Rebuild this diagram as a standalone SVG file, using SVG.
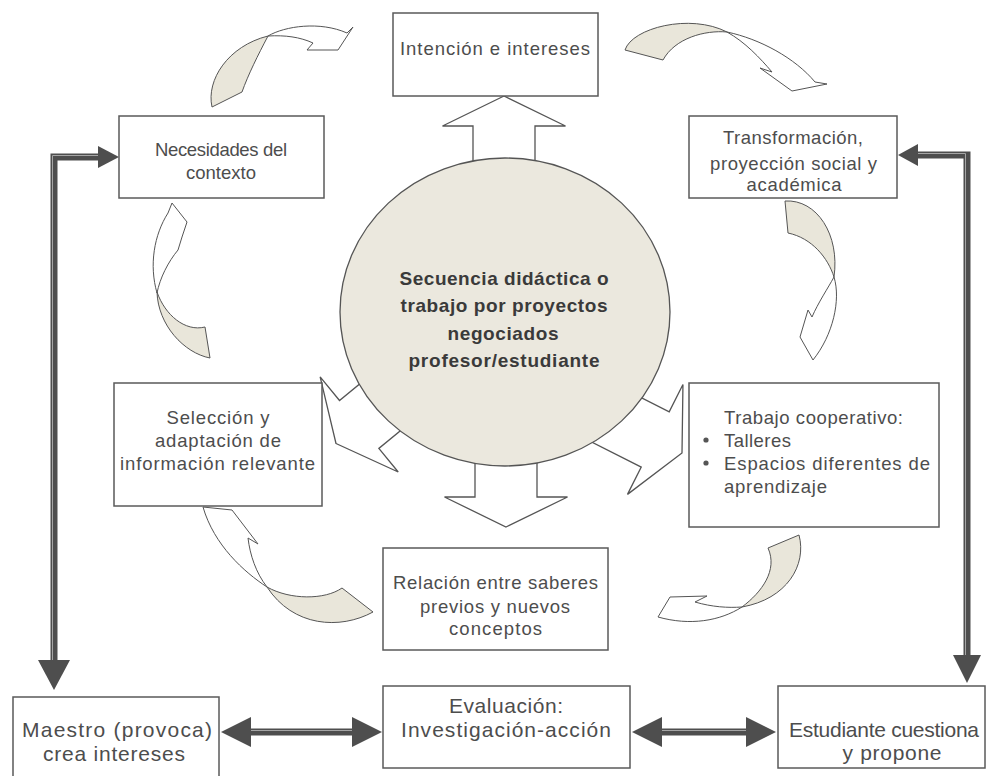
<svg xmlns="http://www.w3.org/2000/svg" xmlns:xlink="http://www.w3.org/1999/xlink" width="992" height="776" viewBox="0 0 992 776">
<style>
.box{fill:#fff;stroke:#5a5a5a;stroke-width:1.5}
.t{font-family:"Liberation Sans",Arial,sans-serif;font-size:18.5px;fill:#4d4d4d;text-anchor:middle}
.tl{text-anchor:start}
.b{font-weight:bold;font-size:19px;fill:#3a3a3a}
.tb{font-size:21px}
.hollow{fill:#fff;stroke:#555;stroke-width:1.3}
.cw{fill:#fff;stroke:#555;stroke-width:1}
.cb{fill:#e9e6da;stroke:#555;stroke-width:1}
.bar{fill:none;stroke:#4e4e4e;stroke-width:7}
.barl{fill:none;stroke:#a5a5a5;stroke-width:1}
.head{fill:#4e4e4e}
.circ{fill:#ebe8de;stroke:#555;stroke-width:1.3}
</style>
<defs>
<polygon id="ha" points="0,0 -30,-61.5 -30,-31 -110,-31 -110,31 -30,31 -30,61.5"/>
</defs>
<rect width="992" height="776" fill="#fff"/>
<g id="connectors">
  <path class="cb" d="M212,107 C206,80 228,46 268,36 C258,55 248,75 242,92 Z"/>
  <path class="cw" d="M268,36 C285,26 320,21 347,33 L353,27 L338,50 L307,50 L313,43 C300,37 285,35 268,36 Z"/>
  <path class="cb" d="M625,50 C632,28 690,13 727,32 C705,30 675,38 663,60 Z"/>
  <path class="cw" d="M727,32 C760,39 795,58 815,82 L827,84 L792,91 L760,68 L772,72 C760,58 745,42 727,32 Z"/>
  <path class="cb" d="M785,201 C817,199 840,235 834,277 C828,258 812,238 788,233 Z"/>
  <path class="cw" d="M834,277 C841,300 833,335 813,360 L800,337 L808,310 L812,317 C818,303 828,288 834,277 Z"/>
  <path class="cb" d="M799,535 C807,565 787,599 742,607 C762,592 778,570 768,548 Z"/>
  <path class="cw" d="M742,607 C720,621 690,626 658,617 L670,597 L707,596 L695,602 C712,607 728,608 742,607 Z"/>
  <path class="cb" d="M373,612 C340,630 293,627 267,587 C290,600 325,600 342,588 Z"/>
  <path class="cw" d="M267,587 C244,572 214,545 203,507 L232,510 L258,544 L248,538 C250,555 256,573 267,587 Z"/>
  <path class="cb" d="M210,358 C184,353 158,325 157,292 C165,315 185,332 205,327 Z"/>
  <path class="cw" d="M157,293 C149,265 154,235 168,213 L172,203 L187,222 L182,237 L178,250 C168,262 160,278 157,293 Z"/>
  <use xlink:href="#ha" class="hollow" transform="translate(504,96) rotate(-90)"/>
  <use xlink:href="#ha" class="hollow" transform="translate(506,527) rotate(90)"/>
  <use xlink:href="#ha" class="hollow" transform="translate(682,453) rotate(26.8)"/>
  <use xlink:href="#ha" class="hollow" transform="translate(336,443.5) rotate(140.6)"/>
  <path class="bar" d="M54,662 V157 H99"/>
  <path class="barl" d="M52.5,660 V155.5 H99"/>
  <polygon class="head" points="98,146 119,157 98,168"/>
  <polygon class="head" points="38,660 70,660 54,690"/>
  <path class="bar" d="M967,656 V155 H917"/>
  <path class="barl" d="M965.5,656 V153.5 H917"/>
  <polygon class="head" points="918,144 898,155 918,166"/>
  <polygon class="head" points="953,655 981,655 967,683"/>
  <path class="bar" d="M250,732 H353"/>
  <path class="barl" d="M250,730.5 H353"/>
  <polygon class="head" points="251,717 221,732 251,747"/>
  <polygon class="head" points="352,717 382,732 352,747"/>
  <path class="bar" d="M661,732 H747"/>
  <path class="barl" d="M661,730.5 H747"/>
  <polygon class="head" points="662,717 632,732 662,747"/>
  <polygon class="head" points="746,717 776,732 746,747"/>
</g>
<g id="centro">
  <ellipse class="circ" cx="505" cy="312" rx="165" ry="154"/>
  <text class="t b" x="504" y="285" textLength="209" lengthAdjust="spacing">Secuencia didáctica o</text>
  <text class="t b" x="504" y="312" textLength="207" lengthAdjust="spacing">trabajo por proyectos</text>
  <text class="t b" x="503" y="340" textLength="111" lengthAdjust="spacing">negociados</text>
  <text class="t b" x="504" y="367" textLength="191" lengthAdjust="spacing">profesor/estudiante</text>
</g>
<g id="intencion">
  <rect class="box" x="393" y="13" width="205" height="83"/>
  <text class="t" x="495" y="54.5" textLength="190" lengthAdjust="spacing">Intención e intereses</text>
</g>
<g id="necesidades">
  <rect class="box" x="119" y="116" width="205" height="82"/>
  <text class="t" x="221" y="155.5" textLength="132" lengthAdjust="spacing">Necesidades del</text>
  <text class="t" x="221" y="178.5" textLength="70" lengthAdjust="spacing">contexto</text>
</g>
<g id="transformacion">
  <rect class="box" x="689" y="116" width="208" height="82"/>
  <text class="t" x="793" y="143.5" textLength="140" lengthAdjust="spacing">Transformación,</text>
  <text class="t" x="793.5" y="169.5" textLength="167" lengthAdjust="spacing">proyección social y</text>
  <text class="t" x="794" y="190.5" textLength="95" lengthAdjust="spacing">académica</text>
</g>
<g id="seleccion">
  <rect class="box" x="114" y="383" width="208" height="123"/>
  <text class="t" x="218" y="423.5" textLength="103" lengthAdjust="spacing">Selección y</text>
  <text class="t" x="218" y="446.5" textLength="126" lengthAdjust="spacing">adaptación de</text>
  <text class="t" x="217.5" y="469.5" textLength="195" lengthAdjust="spacing">información relevante</text>
</g>
<g id="trabajo">
  <rect class="box" x="689" y="383" width="250" height="144"/>
  <text class="t tl" x="724" y="423.5" textLength="179" lengthAdjust="spacing">Trabajo cooperativo:</text>
  <circle cx="706" cy="440" r="2.6" fill="#555"/>
  <text class="t tl" x="724" y="446.5" textLength="67" lengthAdjust="spacing">Talleres</text>
  <circle cx="706" cy="463" r="2.6" fill="#555"/>
  <text class="t tl" x="724" y="469.5" textLength="206" lengthAdjust="spacing">Espacios diferentes de</text>
  <text class="t tl" x="724" y="492.5" textLength="103" lengthAdjust="spacing">aprendizaje</text>
</g>
<g id="relacion">
  <rect class="box" x="383" y="548" width="225" height="102"/>
  <text class="t" x="495.5" y="588.5" textLength="205" lengthAdjust="spacing">Relación entre saberes</text>
  <text class="t" x="495" y="612.5" textLength="150" lengthAdjust="spacing">previos y nuevos</text>
  <text class="t" x="495.5" y="634.5" textLength="93" lengthAdjust="spacing">conceptos</text>
</g>
<g id="maestro">
  <rect class="box" x="13" y="697" width="206" height="90"/>
  <text class="t tb" x="117" y="736.5" textLength="190" lengthAdjust="spacing">Maestro (provoca)</text>
  <text class="t tb" x="114" y="760.5" textLength="142" lengthAdjust="spacing">crea intereses</text>
</g>
<g id="evaluacion">
  <rect class="box" x="383" y="686" width="247" height="82"/>
  <text class="t tb" x="506" y="712.5" textLength="114" lengthAdjust="spacing">Evaluación:</text>
  <text class="t tb" x="506" y="736.5" textLength="210" lengthAdjust="spacing">Investigación-acción</text>
</g>
<g id="estudiante">
  <rect class="box" x="778" y="686" width="207" height="82"/>
  <text class="t tb" x="884" y="736.5" textLength="190" lengthAdjust="spacing">Estudiante cuestiona</text>
  <text class="t tb" x="892" y="759.5" textLength="99" lengthAdjust="spacing">y propone</text>
</g>
</svg>
